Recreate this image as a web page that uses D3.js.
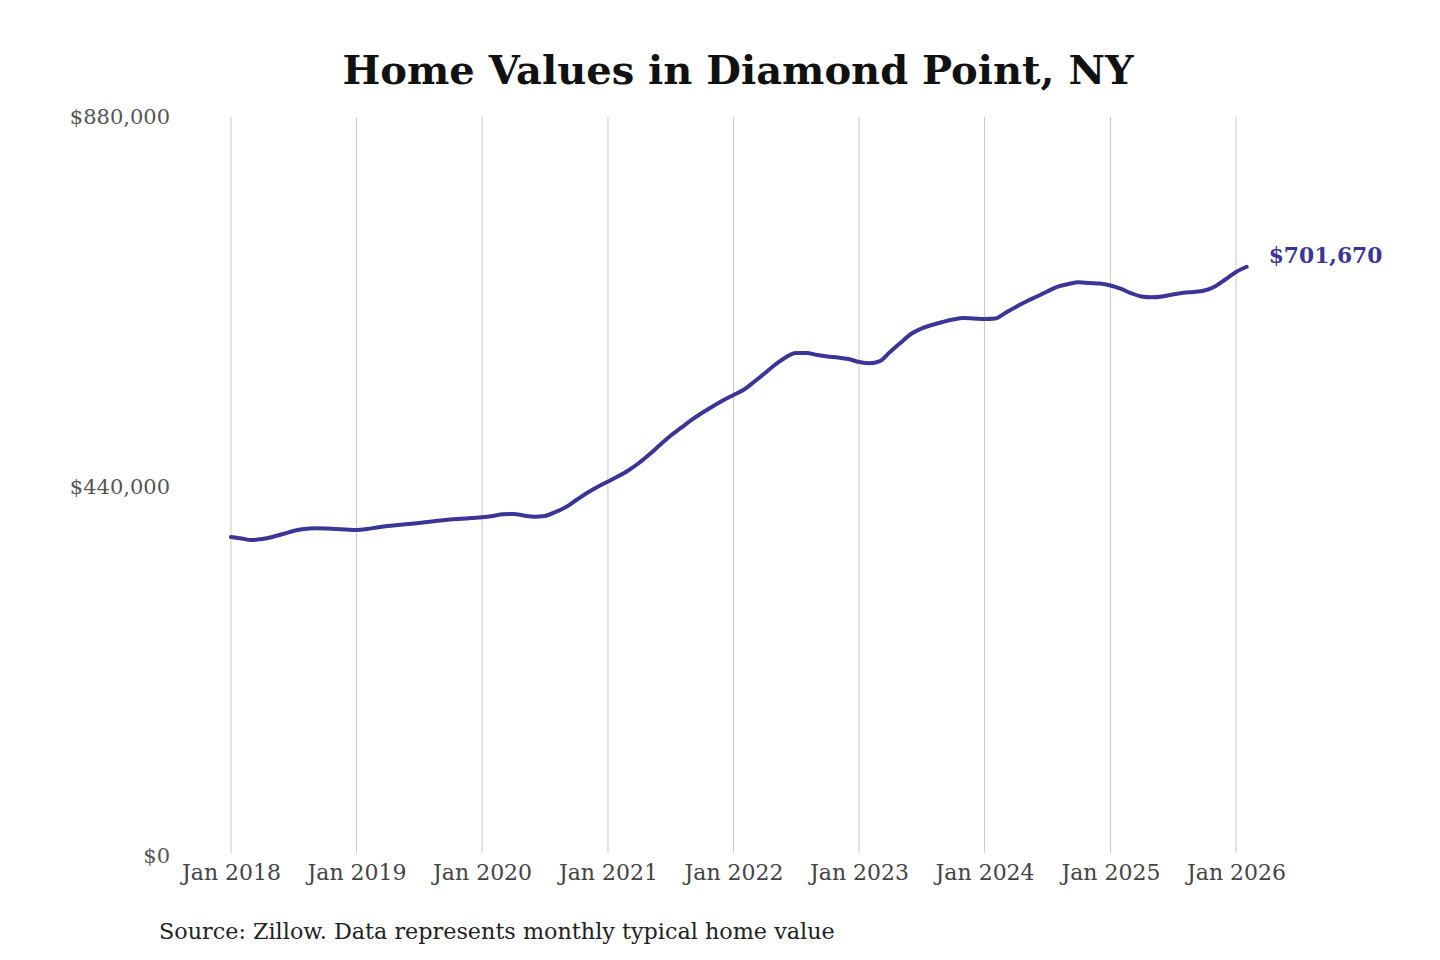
<!DOCTYPE html>
<html>
<head>
<meta charset="utf-8">
<script src="https://cdn.jsdelivr.net/npm/d3@7/dist/d3.min.js"></script>
<style>
  html, body { margin: 0; padding: 0; background: #fff; }
  svg { display: block; }
</style>
</head>
<body>
<svg id="chart" width="1440" height="960"></svg>
<script>
const title = "Home Values in Diamond Point, NY";
const source = "Source: Zillow. Data represents monthly typical home value";
const startMonth = "2018-01";
const values = [
  379900, 378100, 376300, 377500, 379900, 383400, 387000, 389400, 390200, 390000, 389400, 388800,
  388200, 389400, 391200, 393000, 394200, 395300, 396500, 398000, 399400, 400700, 401500, 402500,
  403300, 404900, 406900, 407300, 405500, 404000, 404900, 409600, 415600, 423900, 432300, 439400,
  446000, 452500, 459100, 468000, 478100, 489400, 500100, 509700, 519200, 527500, 535300, 542400,
  549000, 555500, 564400, 574600, 584700, 593600, 599000, 599000, 596600, 594800, 593600, 591800,
  588300, 586700, 588900, 600200, 610900, 621600, 628100, 632300, 635900, 638900, 640700, 640100,
  639500, 640100, 646600, 653800, 660300, 666300, 672200, 677900, 681100, 683200, 682300, 681700,
  679400, 675200, 670400, 666300, 665300, 666300, 668600, 670800, 671600, 673400, 678200, 686500,
  695400, 701670
];
const yTicks = [0, 440000, 880000];
const xTickYears = [2018, 2019, 2020, 2021, 2022, 2023, 2024, 2025, 2026];

const parse = d3.timeParse("%Y-%m");
const t0 = parse(startMonth);
const data = values.map((v, i) => ({ date: d3.timeMonth.offset(t0, i), value: v }));
const xTicks = xTickYears.map(y => new Date(y, 0, 1));

const svg = d3.select("#chart");
const x = d3.scaleTime().domain([new Date(2018, 0, 1), new Date(2026, 0, 1)]).range([231, 1236]);
const y = d3.scaleLinear().domain([0, 880000]).range([856, 117]);

svg.append("text")
  .attr("x", 738).attr("y", 84)
  .attr("text-anchor", "middle")
  .style("font-family", "'DejaVu Serif', serif")
  .style("font-weight", "bold")
  .style("font-size", "40px")
  .style("fill", "#111")
  .text(title);

// vertical gridlines
svg.append("g").selectAll("line").data(xTicks).join("line")
  .attr("x1", d => x(d)).attr("x2", d => x(d))
  .attr("y1", y(880000)).attr("y2", y(0) - 3)
  .attr("stroke", "#c8c8c8").attr("stroke-width", 1);

// x axis labels
const xAxis = d3.axisBottom(x).tickValues(xTicks).tickFormat(d3.timeFormat("%b %Y")).tickSize(0).tickPadding(0);
const gx = svg.append("g").attr("transform", `translate(0, 864)`).call(xAxis);
gx.select(".domain").remove();
gx.selectAll("text")
  .attr("dy", "0.72em")
  .style("font-family", "'DejaVu Serif', serif")
  .style("font-size", "22px")
  .style("fill", "#444");

// y axis labels
const yAxis = d3.axisLeft(y).tickValues(yTicks).tickFormat(d => "$" + d3.format(",")(d)).tickSize(0).tickPadding(0);
const gy = svg.append("g").attr("transform", `translate(170, 0)`).call(yAxis);
gy.select(".domain").remove();
gy.selectAll("text")
  .style("font-family", "'DejaVu Serif', serif")
  .style("font-size", "21px")
  .style("fill", "#555");

// line
const line = d3.line().x(d => x(d.date)).y(d => y(d.value)).curve(d3.curveMonotoneX);
svg.append("path").datum(data)
  .attr("d", line)
  .attr("fill", "none")
  .attr("stroke", "#3b3596")
  .attr("stroke-width", 4)
  .attr("stroke-linejoin", "round")
  .attr("stroke-linecap", "round");

// end label
const last = data[data.length - 1];
svg.append("text")
  .attr("x", x(last.date) + 22).attr("y", y(last.value) - 11)
  .attr("dy", "0.35em")
  .style("font-family", "'DejaVu Serif', serif")
  .style("font-weight", "bold")
  .style("font-size", "21.8px")
  .style("fill", "#3b3596")
  .text("$" + d3.format(",")(last.value));

svg.append("text")
  .attr("x", 159).attr("y", 939)
  .style("font-family", "'DejaVu Serif', serif")
  .style("font-size", "22.3px")
  .style("fill", "#222")
  .text(source);
</script>
</body>
</html>
